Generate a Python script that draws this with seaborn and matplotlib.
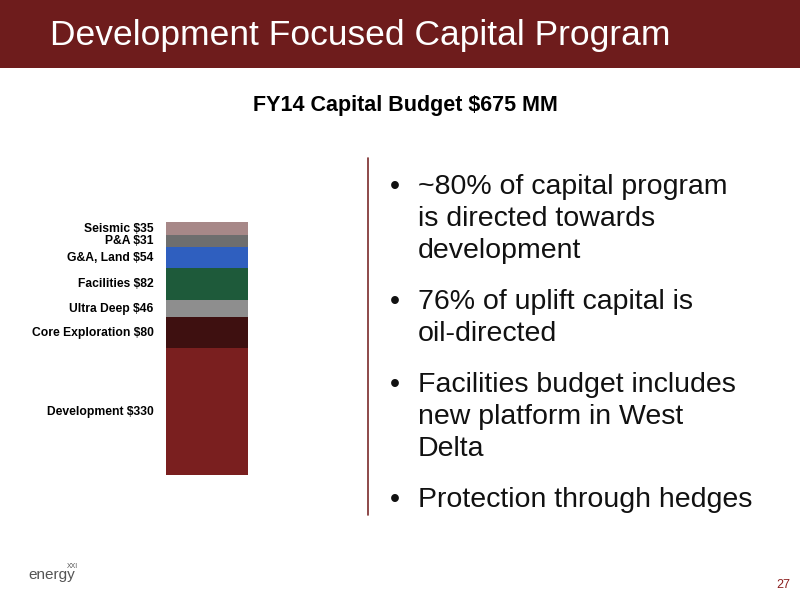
import matplotlib
matplotlib.use("Agg")
import matplotlib.pyplot as plt
import seaborn as sns
import pandas as pd
from matplotlib.patches import Rectangle

categories = ["Development", "Core Exploration", "Ultra Deep", "Facilities", "G&A, Land", "P&A", "Seismic"]
values = [330, 80, 46, 82, 54, 31, 35]
labels = ["Development $330", "Core Exploration $80", "Ultra Deep $46", "Facilities $82",
          "G&A, Land $54", "P&A $31", "Seismic $35"]
colors = ["#7a1f1f", "#3e1010", "#8e8e8e", "#1e5a3a", "#2f5fbf", "#6e6e6e", "#a78888"]
bullets = ["~80% of capital program\nis directed towards\ndevelopment",
           "76% of uplift capital is\noil-directed",
           "Facilities budget includes\nnew platform in West\nDelta",
           "Protection through hedges"]

sns.set_theme(style="white")
plt.rcParams["font.family"] = ["Liberation Sans", "DejaVu Sans"]
fig = plt.figure(figsize=(8, 6), dpi=100)
fig.patch.set_facecolor("white")

fig.patches.append(Rectangle((0, 1 - 68/600), 1, 68/600, transform=fig.transFigure,
                             facecolor="#6e1c1c", edgecolor="none", zorder=0))
fig.text(50/800, 1 - 35/600, "Development Focused Capital Program", color="white",
         fontsize=25.5, va="center", ha="left")
fig.text(405/800, 1 - 105/600, "FY14 Capital Budget $675 MM", fontsize=15.5,
         fontweight="bold", ha="center", va="center", color="black")

ax = fig.add_axes([166/800, 1 - 475/600, 82/800, 253/600])
bottom = 0
for c, v, col, lab in zip(categories, values, colors, labels):
    sns.barplot(x=["x"], y=[v], bottom=bottom, color=col, width=1.0, ax=ax,
                saturation=1, edgecolor="none")
    ax.text(-0.65, bottom + v/2, lab, ha="right", va="center", fontsize=8.7,
            fontweight="bold", clip_on=False, color="black")
    bottom += v
ax.set_xlim(-0.5, 0.5)
ax.set_ylim(0, sum(values))
ax.axis("off")

fig.add_artist(plt.Line2D([368/800, 368/800], [1 - 158/600, 1 - 515/600],
                          color="#7a2a2a", lw=1.2))

ys = [174, 289, 372, 487]
for y, b in zip(ys, bullets):
    fig.text(390/800, 1 - y/600, "•", fontsize=20.5, va="top", ha="left", color="#111111")
    fig.text(418/800, 1 - y/600, b, fontsize=20.5, va="top", ha="left",
             linespacing=1.3, color="#111111")

fig.text(783/800, 1 - 585/600, "27", color="#8b2020", fontsize=9, ha="center", va="center")
fig.text(28/800, 1 - 575/600, "energy", color="#555555", fontsize=11, ha="left", va="center")
fig.text(67/800, 1 - 566/600, "XXI", color="#555555", fontsize=5, ha="left", va="center")

fig.savefig("out.png", dpi=100)
